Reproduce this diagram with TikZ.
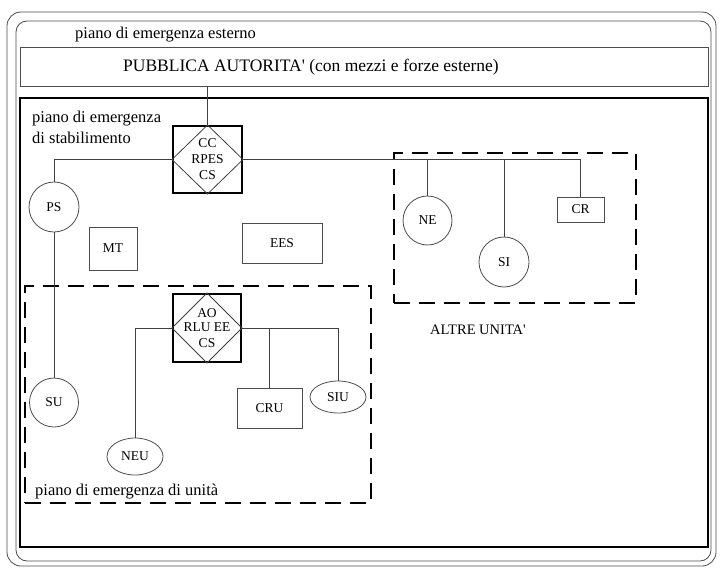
\documentclass[tikz,border=0pt]{standalone}
\usepackage{fontspec}
\setmainfont{Liberation Serif}
\usetikzlibrary{shapes.geometric}
\newcommand{\pelabel}{\fontsize{16.5}{21}\selectfont}
\newcommand{\pesigla}{\fontsize{13.5}{16}\selectfont}
\newcommand{\pepub}{\fontsize{17.5}{20}\selectfont}
\tikzset{
  frame/.style   = {draw=black!70, line width=0.8pt, rounded corners=14pt},
  plan/.style    = {draw=black, line width=2pt, inner sep=0pt},
  grp/.style     = {draw=black, line width=1.8pt, dash pattern=on 16pt off 9pt,
                    inner sep=0pt},
  ctrl/.style    = {draw=black, line width=2pt, inner sep=0pt, align=center,
                    font=\pesigla, minimum width=68pt, minimum height=68pt},
  unit/.style    = {circle, draw=black!70, line width=0.8pt, inner sep=0pt,
                    font=\pesigla, minimum size=50pt},
  oval/.style    = {ellipse, draw=black!70, line width=0.8pt, inner sep=0pt,
                    font=\pesigla},
  box/.style     = {rectangle, draw=black!70, line width=0.8pt, inner sep=0pt,
                    font=\pesigla},
  link/.style    = {draw=black!75, line width=0.8pt},
  lbl/.style     = {font=\pelabel, inner sep=0pt, anchor=west, align=left},
}

\begin{document}
\begin{tikzpicture}[x=1pt, y=-1pt]
  \useasboundingbox (0,0) rectangle (720,570);

  % ---- outer frames -----------------------------------------------------
  \draw[frame] (7,12) rectangle (716,566);
  \draw[frame, rounded corners=11pt] (16,21) rectangle (711,561);
  \node[lbl] (esterno) at (75,35) {piano di emergenza esterno};

  \node[box, minimum width=688, minimum height=39] (pa) at (364,66.5) {};
  \node[font=\pepub, inner sep=0pt] (patxt) at (311,67)
    {PUBBLICA AUTORITA\textquotesingle{} (con mezzi e forze esterne)};

  \node[plan, minimum width=688, minimum height=449] (stab) at (364,322.5) {};
  \node[lbl] (stabtxt) at (32,127.5) {piano di emergenza\\di stabilimento};

  % ---- establishment level ----------------------------------------------
  \node[ctrl, minimum width=69, minimum height=67] (cc) at (207.5,159.5)
    {CC\\RPES\\CS};
  \node[unit] (ps) at (54,207) {PS};
  \node[box, minimum width=48, minimum height=43] (mt) at (113,248.5) {MT};
  \node[box, minimum width=80, minimum height=40] (ees) at (282,243) {EES};

  % ---- other units ------------------------------------------------------
  \node[grp, minimum width=242, minimum height=150] (altre) at (515,228) {};
  \node[unit, minimum size=49] (ne) at (427.5,220.5) {NE};
  \node[unit] (si) at (504,262) {SI};
  \node[box, minimum width=47, minimum height=25] (cr) at (580.5,209.5) {CR};
  \node[font=\fontsize{14.5}{17}\selectfont, inner sep=0pt] (altretxt)
    at (478,330) {ALTRE UNITA\textquotesingle};

  % ---- unit level -------------------------------------------------------
  \node[grp, minimum width=346, minimum height=217] (unita) at (198,394.5) {};
  \node[ctrl] (ao) at (207,328) {AO\\[-2pt]RLU EE\\CS};
  \node[unit, minimum size=49] (su) at (54,402.5) {SU};
  \node[box, minimum width=65, minimum height=40] (cru) at (269.5,408) {CRU};
  \node[oval, minimum width=56, minimum height=32] (siu) at (338,397) {SIU};
  \node[oval, minimum width=56, minimum height=37] (neu) at (135,456.5) {NEU};
  \node[lbl] (unitatxt) at (35,492) {piano di emergenza di unità};

  % ---- diamonds ---------------------------------------------------------
  \draw[link] (cc.north) -- (cc.east) -- (cc.south) -- (cc.west) -- cycle;
  \draw[link] (ao.north) -- (ao.east) -- (ao.south) -- (ao.west) -- cycle;

  % ---- connectors -------------------------------------------------------
  \draw[link] (pa.south -| cc.north) -- (cc.north);
  \draw[link] (cc.west) -| (ps.north);
  \draw[link] (cc.east) -| (cr.north);
  \draw[link] (ne.north) -- (ne.north |- cc.east);
  \draw[link] (si.north) -- (si.north |- cc.east);
  \draw[link] (ps.south) -- (su.north);
  \draw[link] (ao.west) -| (neu.north);
  \draw[link] (ao.east) -| (siu.north);
  \draw[link] (cru.north) -- (cru.north |- ao.east);

\end{tikzpicture}
\end{document}
